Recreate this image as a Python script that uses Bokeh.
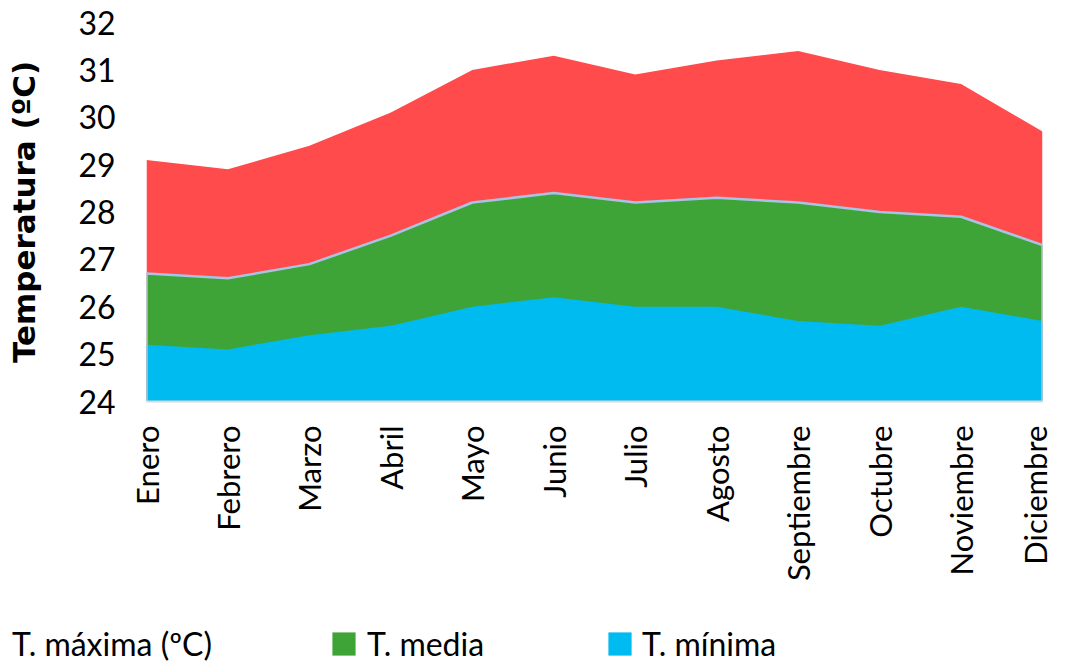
from bokeh.plotting import figure
from bokeh.models import Range1d, FixedTicker, Legend, LegendItem
from bokeh.embed import file_html
from bokeh.resources import INLINE
import math

months = ["Enero", "Febrero", "Marzo", "Abril", "Mayo", "Junio", "Julio",
          "Agosto", "Septiembre", "Octubre", "Noviembre", "Diciembre"]
t_max = [29.1, 28.9, 29.4, 30.1, 31.0, 31.3, 30.9, 31.2, 31.4, 31.0, 30.7, 29.7]
t_media = [26.7, 26.6, 26.9, 27.5, 28.2, 28.4, 28.2, 28.3, 28.2, 28.0, 27.9, 27.3]
t_min = [25.2, 25.1, 25.4, 25.6, 26.0, 26.2, 26.0, 26.0, 25.7, 25.6, 26.0, 25.7]
y_ticks = [24, 25, 26, 27, 28, 29, 30, 31, 32]
series_labels = ["T. máxima (ºC)", "T. media", "T. mínima"]

Y_MIN, Y_MAX = y_ticks[0], y_ticks[-1]
x = list(range(len(months)))

FONT = "Lato"
RED = "#FF4B4B"
GREEN = "#3EA438"
BLUE = "#00BBF0"
OUTLINE = "#A8C3E4"

W = 1053
MAIN_H = 600
LEG_H = 63

p = figure(width=W, height=MAIN_H, output_backend="svg", toolbar_location=None,
           x_range=Range1d(0, len(months) - 1), y_range=Range1d(Y_MIN, Y_MAX),
           min_border_left=146, min_border_right=11, min_border_top=22,
           min_border_bottom=MAIN_H - 401)
p.outline_line_color = None
p.xgrid.visible = False
p.ygrid.visible = False

p.varea(x=x, y1=[Y_MIN] * len(x), y2=t_max, fill_color=RED)
p.varea(x=x, y1=[Y_MIN] * len(x), y2=t_media, fill_color=GREEN)
p.varea(x=x, y1=[Y_MIN] * len(x), y2=t_min, fill_color=BLUE)
# outline of the media area
p.line(x=[x[0]] + x + [x[-1]], y=[Y_MIN] + t_media + [Y_MIN],
       line_color=OUTLINE, line_width=2.5)

# axes
p.xaxis.ticker = FixedTicker(ticks=x)
p.xaxis.major_label_overrides = {i: m for i, m in enumerate(months)}
p.xaxis.major_label_orientation = math.pi / 2
p.xaxis.major_label_text_font = FONT
p.xaxis.major_label_text_font_size = "31px"
p.xaxis.major_label_text_color = "#000000"
p.xaxis.major_label_standoff = 24
p.xaxis.major_tick_out = 0
p.xaxis.major_tick_in = 0
p.xaxis.axis_line_color = "#D9D9D9"
p.xaxis.axis_line_width = 2
p.xaxis.major_tick_line_color = None
p.xaxis.minor_tick_line_color = None

p.yaxis.ticker = FixedTicker(ticks=y_ticks)
p.yaxis.major_label_text_font = FONT
p.yaxis.major_label_text_font_size = "32px"
p.yaxis.major_label_text_color = "#000000"
p.yaxis.major_label_standoff = 31
p.yaxis.major_tick_out = 0
p.yaxis.major_tick_in = 0
p.yaxis.axis_line_color = None
p.yaxis.major_tick_line_color = None
p.yaxis.minor_tick_line_color = None
p.yaxis.axis_label = "Temperatura (ºC)"
p.yaxis.axis_label_text_font = "DejaVu Sans"
p.yaxis.axis_label_text_font_style = "bold"
p.yaxis.axis_label_text_font_size = "31px"
p.yaxis.axis_label_text_color = "#000000"
p.yaxis.axis_label_standoff = 33

# legend strip (separate root so its frame spans the full width)
lf = figure(width=W, height=LEG_H, output_backend="svg", toolbar_location=None,
            x_range=Range1d(0, 1), y_range=Range1d(0, 1),
            x_axis_type=None, y_axis_type=None,
            min_border_left=0, min_border_right=0, min_border_top=0,
            min_border_bottom=0)
lf.outline_line_color = None
lf.xgrid.visible = False
lf.ygrid.visible = False
key_max = lf.varea(x=x, y1=t_max, y2=t_max, fill_color=RED, fill_alpha=0)
key_med = lf.varea(x=x, y1=t_media, y2=t_media, fill_color=GREEN)
key_min = lf.varea(x=x, y1=t_min, y2=t_min, fill_color=BLUE)


def make_legend(label, renderer, xpos, glyph_w, standoff):
    lg = Legend(items=[LegendItem(label=label, renderers=[renderer])],
                location=(xpos, 0), orientation="horizontal",
                glyph_width=glyph_w, glyph_height=29, label_height=29,
                label_standoff=standoff, padding=0, margin=0, spacing=0,
                background_fill_alpha=0, border_line_color=None,
                label_text_font=FONT, label_text_font_size="32px",
                label_text_color="#000000")
    lf.add_layout(lg, "center")


make_legend(series_labels[0], key_max, 12, 0, 0)
make_legend(series_labels[1], key_med, 329, 29, 9)
make_legend(series_labels[2], key_min, 605, 29, 8)

open("out.html", "w").write(file_html([p, lf], INLINE))
